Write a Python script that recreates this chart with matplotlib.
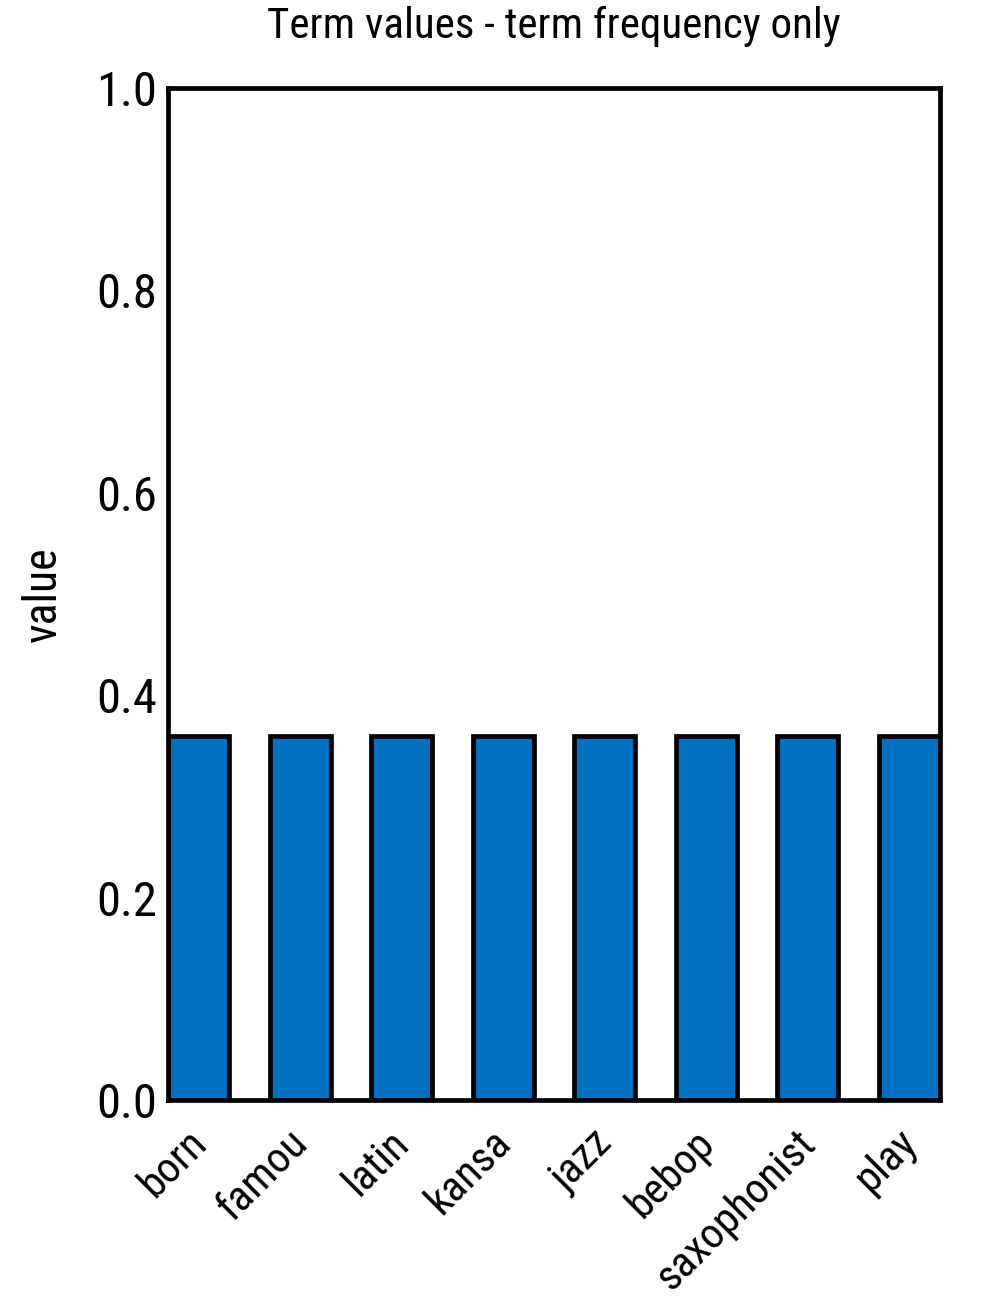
import matplotlib
matplotlib.use('Agg')
import matplotlib.pyplot as plt
from matplotlib.transforms import ScaledTranslation

terms = ['born', 'famou', 'latin', 'kansa', 'jazz', 'bebop', 'saxophonist', 'play']
values = [0.36, 0.36, 0.36, 0.36, 0.36, 0.36, 0.36, 0.36]
yticks = [0.0, 0.2, 0.4, 0.6, 0.8, 1.0]

plt.rcParams['font.family'] = ['Roboto Condensed', 'DejaVu Sans']

fig = plt.figure(figsize=(10, 13.04), dpi=100)
ax = fig.add_axes([0.168, 0.1564, 0.772, 0.7761])

xs = list(range(len(terms)))
ax.bar(xs, values, width=0.6, color='#0070c0', edgecolor='black', linewidth=3.4)

ax.set_xlim(-0.3, 7.3)
ax.set_ylim(0, 1.0)
ax.set_xticks(xs)
ax.set_xticklabels(terms, rotation=45, ha='right', fontsize=31)
ax.set_yticks(yticks)
ax.set_yticklabels(['%.1f' % v for v in yticks], fontsize=35)
ax.tick_params(axis='y', length=0, pad=8)
ax.tick_params(axis='x', length=0, pad=16)
for s in ax.spines.values():
    s.set_linewidth(3.4)

# nudge the rotated labels to the right
shift = ScaledTranslation(16 / 100, 0, fig.dpi_scale_trans)
for lab in ax.get_xticklabels():
    lab.set_transform(lab.get_transform() + shift)

ax.set_ylabel('value', fontsize=33, labelpad=22)
ax.set_title('Term values - term frequency only', fontsize=31, pad=36)

fig.savefig('out.png', dpi=100)
